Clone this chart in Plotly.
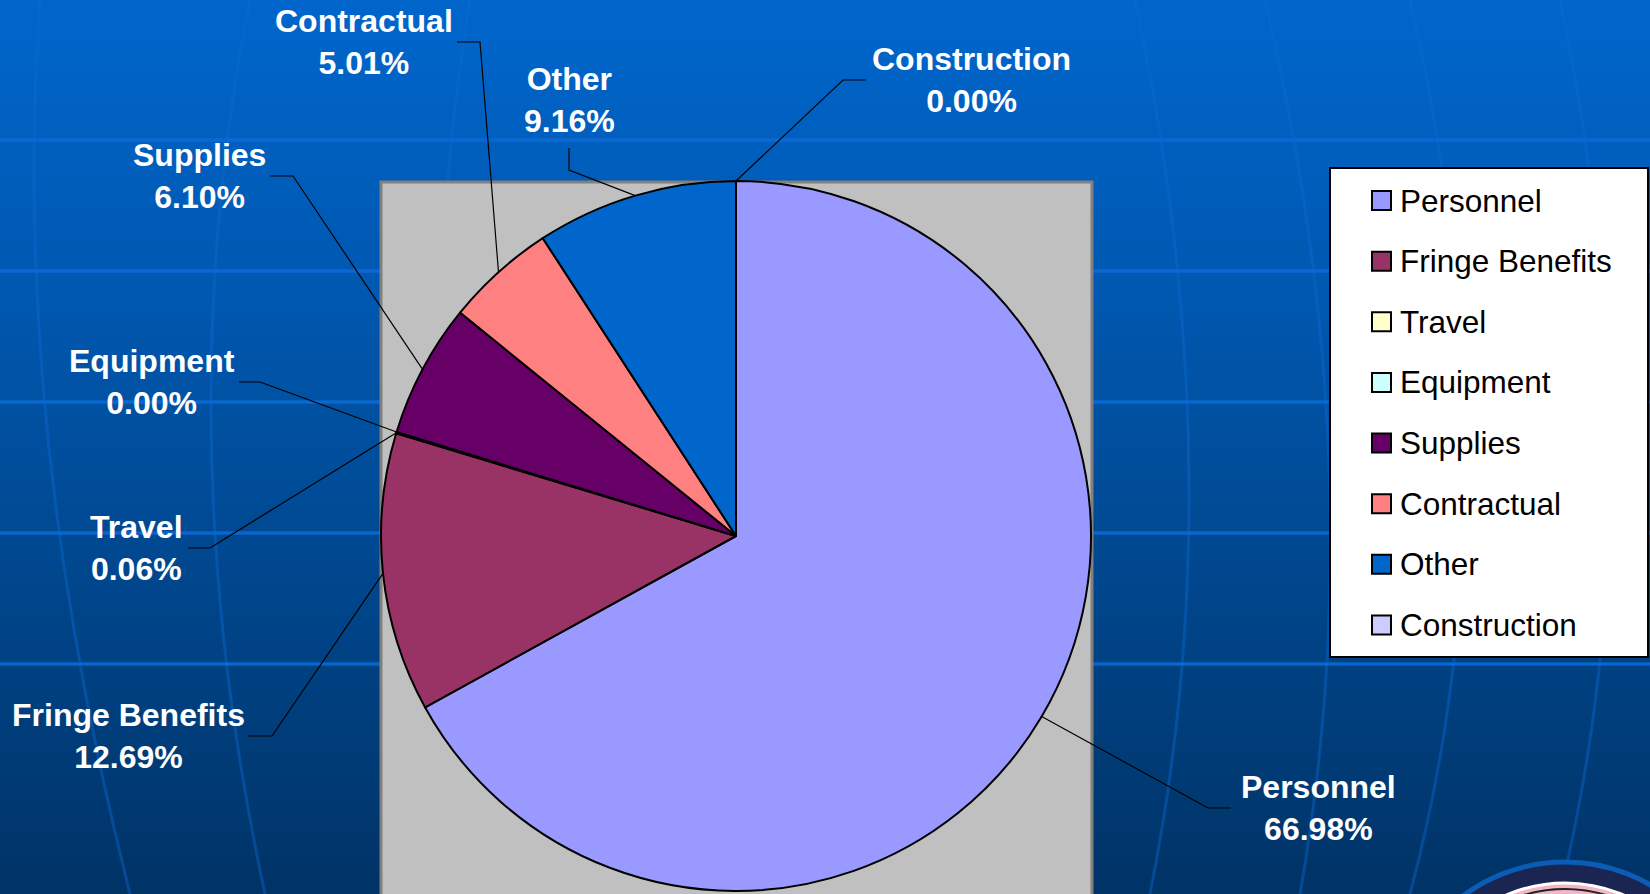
import base64
import math
import plotly.graph_objects as go

# ---------------- data ----------------
categories = ["Personnel", "Fringe Benefits", "Travel", "Equipment",
              "Supplies", "Contractual", "Other", "Construction"]
percent_values = [66.98, 12.69, 0.06, 0.00, 6.10, 5.01, 9.16, 0.00]
slice_colors = ["#9999FF", "#993366", "#FFFFCC", "#CCFFFF",
                "#660066", "#FF8080", "#0066CC", "#CCCCFF"]

# ---------------- layout geometry (pixels) ----------------
W, H = 1650, 894
CX, CY, R = 736, 536, 355          # pie centre / radius
BOX = (381, 182, 1092, 900)        # grey plot area

# label placement: text centre (x, y), leader start, leader elbow
label_layout = {
    "Personnel":       ((1318, 808), (1231, 808), (1208, 808)),
    "Fringe Benefits": ((128, 736), (248, 736), (272, 736)),
    "Travel":          ((136, 548), (188, 548), (210, 548)),
    "Equipment":       ((152, 382), (239, 382), (260, 382)),
    "Supplies":        ((199, 176), (270, 176), (293, 176)),
    "Contractual":     ((364, 42), (457, 42), (480, 42)),
    "Other":           ((569, 100), (569, 148), (569, 170)),
    "Construction":    ((971, 80), (866, 80), (843, 80)),
}

LEG_BOX = (1330, 168, 1648, 657)
LEG_ROW0, LEG_STEP = 200.5, 60.64
LEG_MARK_X0, LEG_MARK_SIZE, LEG_TEXT_X = 1372, 19, 1398


def px(x):
    return x / W


def py(y):
    return 1 - y / H


# ---------------- background (SVG gradient with globe grid) ----------------
grid_rows = [140, 271, 402, 533, 664]
hlines = "".join(f'<line x1="0" y1="{y}" x2="{W}" y2="{y}"/>' for y in grid_rows)
meridians = [
    "M 40,0 Q 10,420 130,894",
    "M 250,0 Q 165,430 265,894",
    "M 470,0 Q 420,300 430,894",
    "M 1135,0 Q 1235,470 1150,894",
    "M 1265,0 Q 1375,470 1300,894",
    "M 1410,0 Q 1520,480 1410,894",
    "M 1560,0 Q 1660,480 1560,894",
]
mpaths = "".join(f'<path d="{d}"/>' for d in meridians)
svg = f'''<svg xmlns="http://www.w3.org/2000/svg" width="{W}" height="{H}" viewBox="0 0 {W} {H}" preserveAspectRatio="none">
<defs><linearGradient id="g" x1="0" y1="0" x2="0" y2="1">
<stop offset="0" stop-color="#0066CC"/>
<stop offset="0.35" stop-color="#0057AE"/>
<stop offset="1" stop-color="#003366"/>
</linearGradient></defs>
<rect width="{W}" height="{H}" fill="url(#g)"/>
<g stroke="#0b6bd6" stroke-width="3" fill="none" opacity="0.4">{mpaths}</g>
<g stroke="#0b6bd8" stroke-width="3.5" fill="none" opacity="0.85">{hlines}</g>
<circle cx="1565" cy="1032" r="170" fill="#1a2552" stroke="#0a5cb4" stroke-width="5"/>
<circle cx="1565" cy="1032" r="149" fill="#f2b6c6" stroke="#ffffff" stroke-width="3"/>
<circle cx="1565" cy="1032" r="143" fill="none" stroke="#222" stroke-width="2"/>
</svg>'''
bg_uri = "data:image/svg+xml;base64," + base64.b64encode(svg.encode()).decode()

# ---------------- figure ----------------
fig = go.Figure()
fig.add_trace(go.Pie(
    labels=categories,
    values=percent_values,
    marker=dict(colors=slice_colors, line=dict(color="#000000", width=2)),
    sort=False,
    direction="clockwise",
    rotation=0,
    textinfo="none",
    hoverinfo="label+percent",
    showlegend=False,
    domain=dict(x=[px(CX - R), px(CX + R)], y=[py(CY + R), py(CY - R)]),
))

shapes = []
annotations = []

# grey plot area
shapes.append(dict(type="rect", xref="paper", yref="paper", layer="below",
                   x0=px(BOX[0]), x1=px(BOX[2]), y0=py(BOX[3]), y1=py(BOX[1]),
                   fillcolor="#C0C0C0", line=dict(color="#808080", width=3)))

# labels + leader lines computed from slice angles
total = sum(percent_values)
cum = 0.0
for name, val in zip(categories, percent_values):
    frac = (cum + val / 2) / total
    cum += val
    ang = 2 * math.pi * frac
    ex = CX + R * math.sin(ang)
    ey = CY - R * math.cos(ang)
    (tx, ty), (sx, sy), (bx, by) = label_layout[name]
    shapes.append(dict(type="path", xref="paper", yref="paper", layer="above",
                       path=f"M {px(sx)},{py(sy)} L {px(bx)},{py(by)} L {px(ex)},{py(ey)}",
                       line=dict(color="#000000", width=1.2)))
    annotations.append(dict(xref="paper", yref="paper", x=px(tx), y=py(ty),
                            xanchor="center", yanchor="middle", showarrow=False,
                            align="center",
                            text=f"<b>{name}</b><br><b>{val:.2f}%</b>",
                            font=dict(family="Arial, Liberation Sans, sans-serif",
                                      size=32, color="#FFFFFF")))

# legend box
shapes.append(dict(type="rect", xref="paper", yref="paper", layer="above",
                   x0=px(LEG_BOX[0]), x1=px(LEG_BOX[2]), y0=py(LEG_BOX[3]), y1=py(LEG_BOX[1]),
                   fillcolor="#FFFFFF", line=dict(color="#000000", width=2)))
for i, (name, col) in enumerate(zip(categories, slice_colors)):
    yc = LEG_ROW0 + i * LEG_STEP
    shapes.append(dict(type="rect", xref="paper", yref="paper", layer="above",
                       x0=px(LEG_MARK_X0), x1=px(LEG_MARK_X0 + LEG_MARK_SIZE),
                       y0=py(yc + LEG_MARK_SIZE / 2), y1=py(yc - LEG_MARK_SIZE / 2),
                       fillcolor=col, line=dict(color="#000000", width=2)))
    annotations.append(dict(xref="paper", yref="paper", x=px(LEG_TEXT_X), y=py(yc),
                            xanchor="left", yanchor="middle", showarrow=False,
                            text=name,
                            font=dict(family="Arial, Liberation Sans, sans-serif",
                                      size=31.5, color="#000000")))

fig.update_layout(
    width=W, height=H,
    margin=dict(l=0, r=0, t=0, b=0),
    paper_bgcolor="#004C99",
    plot_bgcolor="rgba(0,0,0,0)",
    images=[dict(source=bg_uri, xref="paper", yref="paper", x=0, y=1,
                 sizex=1, sizey=1, sizing="stretch", layer="below",
                 xanchor="left", yanchor="top")],
    shapes=shapes,
    annotations=annotations,
    showlegend=False,
)

fig.write_html(
    "out.html",
    config={"displayModeBar": False},
    post_script="document.body.style.margin='0';document.body.style.overflow='hidden';",
)
